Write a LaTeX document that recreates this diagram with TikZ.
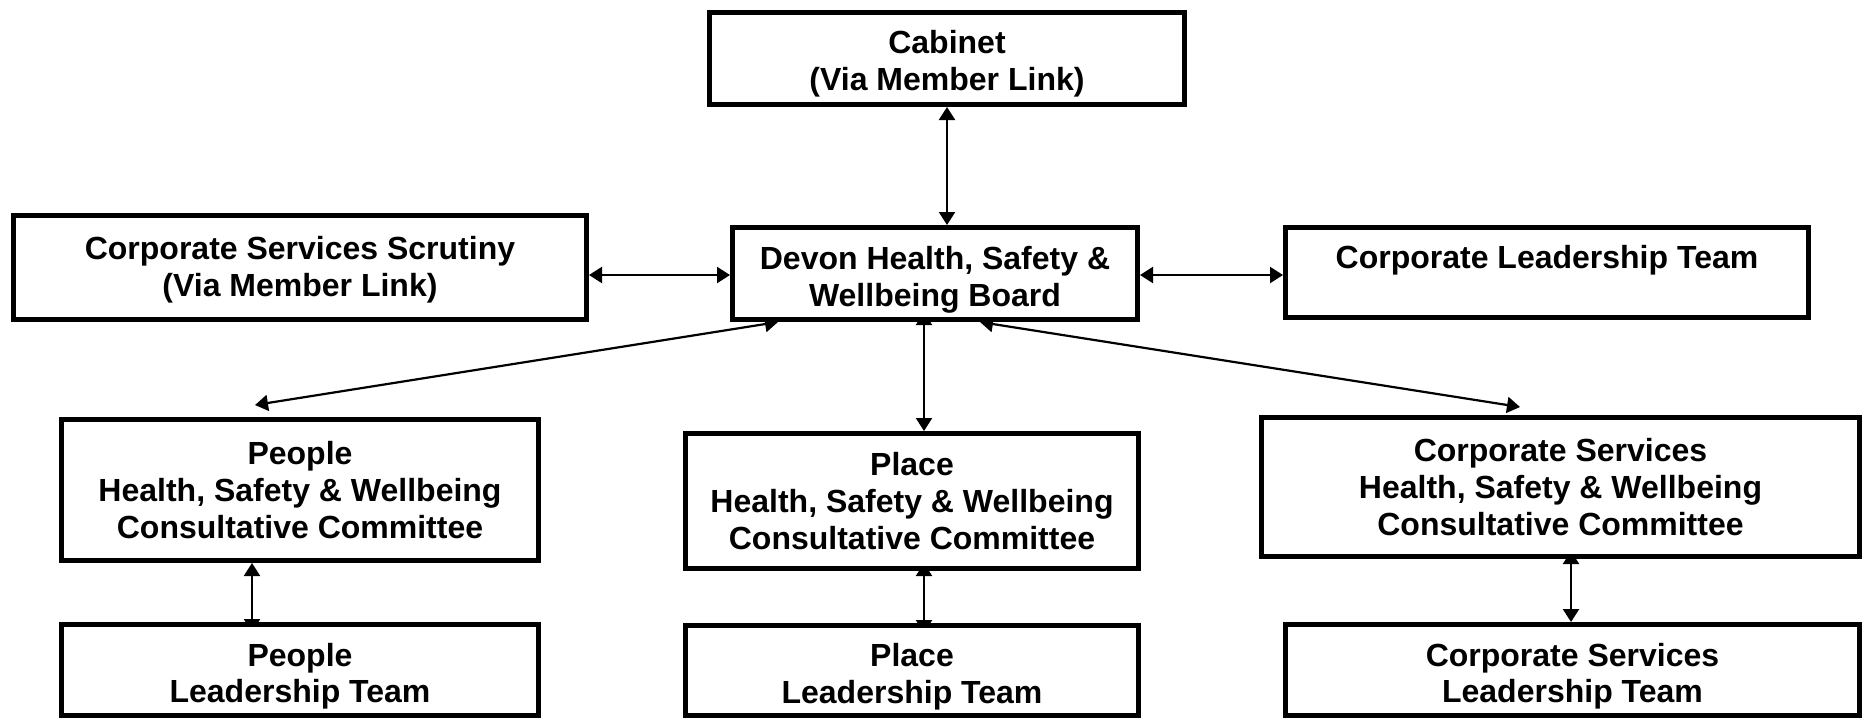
\documentclass[tikz,border=0pt]{standalone}
\usepackage{fontspec}
\setmainfont{Liberation Sans}
\usetikzlibrary{arrows.meta,calc}
\pgfdeclarelayer{background}
\pgfsetlayers{background,main}
\newcommand\mystrut[1]{\rule{0pt}{#1}}
\begin{document}
\begin{tikzpicture}[x=0.5pt,y=-0.5pt,
  box/.style={draw=black, line width=2.3pt, fill=white, rectangle, align=center, inner sep=0pt,
    font=\fontsize{16pt}{18.4pt}\selectfont\bfseries},
  bx/.style 2 args={minimum width=#1*0.5pt-2.3pt, minimum height=#2*0.5pt-2.3pt},
  link/.style={line width=1.1pt, {Triangle[length=6.5pt,width=8pt]}-{Triangle[length=6.5pt,width=8pt]}},
]
\useasboundingbox (0,0) rectangle (1866,720);

\node[box, bx={480}{97}] (cab) at (947,58.5) {\mystrut{16.7pt}Cabinet\\(Via Member Link)};
\node[box, bx={410}{97}] (dev) at (935,273.5) {\mystrut{17.7pt}Devon Health, Safety \&\\Wellbeing Board};
\node[box, bx={578}{109}] (scr) at (300,267.5) {\mystrut{14.1pt}Corporate Services Scrutiny\\(Via Member Link)};
\node[box, bx={528}{95}, text depth=15.4pt] (clt) at (1547,272.5) {Corporate Leadership Team};
\node[box, bx={482}{146}] (pcc) at (300,490) {People\\Health, Safety \& Wellbeing\\Consultative Committee};
\node[box, bx={458}{140}] (plcc) at (912,501) {Place\\Health, Safety \& Wellbeing\\Consultative Committee};
\node[box, bx={603}{144}] (ccc) at (1560.5,487) {Corporate Services\\Health, Safety \& Wellbeing\\Consultative Committee};
\node[box, bx={482}{96}] (plt) at (300,670) {\mystrut{17.7pt}People\\Leadership Team};
\node[box, bx={458}{95}] (pllt) at (912,670.5) {\mystrut{17.7pt}Place\\Leadership Team};
\node[box, bx={579}{96}] (cslt) at (1572.5,670) {\mystrut{17.7pt}Corporate Services\\Leadership Team};

\coordinate (pA) at (255,405);
\coordinate (cA) at (1520,407);
\coordinate (s1) at ($(scr.east)+(0,7.5)$);
\coordinate (d1) at ($(dev.east)+(0,1.5)$);
\coordinate (dl) at ($(dev.south west)+(48,0)$);
\coordinate (dr) at ($(dev.south west)+(250,0)$);
\coordinate (d2) at ($(dev.south west)+(194,0)$);
\coordinate (p2) at ($(plcc.south west)+(241,0)$);
\coordinate (q2) at ($(pcc.south west)+(193,0)$);
\coordinate (r2) at ($(ccc.south west)+(312,0)$);

\begin{pgfonlayer}{background}
\fill[white] (0,0) rectangle (1866,720);
\draw[link] (cab.south) -- (cab.south |- dev.north);
\draw[link] (s1) -- (s1 -| dev.west);
\draw[link] (d1) -- (d1 -| clt.west);
\draw[link] (dl) -- (pA);
\draw[link] (dr) -- (cA);
\draw[link, shorten <=-5pt] (d2) -- (d2 |- plcc.north);
\draw[link, shorten <=-4pt, shorten >=-5pt] (p2) -- (p2 |- pllt.north);
\draw[link, shorten >=-5pt] (q2) -- (q2 |- plt.north);
\draw[link, shorten <=-4pt] (r2) -- (r2 |- cslt.north);
\end{pgfonlayer}
\end{tikzpicture}
\end{document}
